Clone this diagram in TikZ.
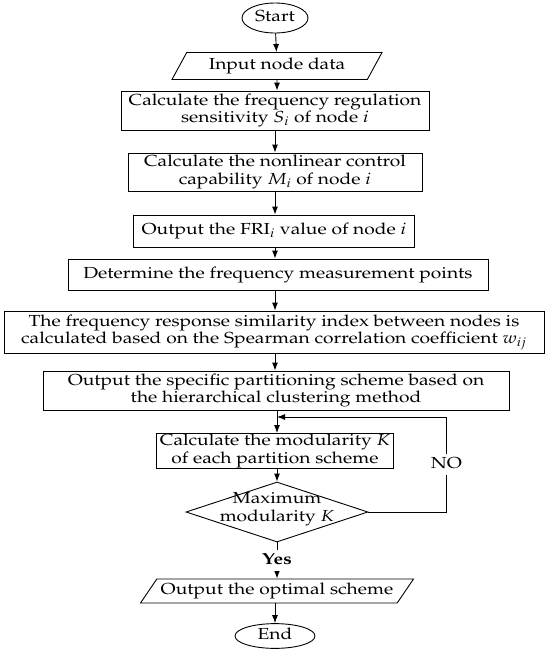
\documentclass[tikz,border=0pt]{standalone}
\usepackage[T1]{fontenc}
\usepackage{mathpazo}
\usepackage{graphicx}
\usetikzlibrary{shapes,arrows.meta,positioning}
\tikzstyle{l1}=[line width=0.9]
\tikzstyle{arr}=[l1, -{Latex[length=8pt,width=6pt]}]
\tikzstyle{txt}=[font=\fontsize{16}{17.5}\selectfont, inner sep=0pt]
\tikzstyle{box}=[rectangle, draw=black, l1, txt]
\tikzstyle{term}=[ellipse, draw=black, l1, txt]
\tikzstyle{io}=[trapezium, trapezium left angle=50, trapezium right angle=130, trapezium stretches body, draw=black, l1, txt]
\tikzstyle{dec}=[diamond, draw=black, l1, inner sep=0pt]
% wide letters, as in the figure
\newcommand{\sx}[1]{\scalebox{1.2}[1]{\begin{tabular}{@{}c@{}}#1\end{tabular}}}

\begin{document}
\begin{tikzpicture}[x=1pt, y=-1pt]
    \useasboundingbox (0,0) rectangle (550,651);
    \node[term, minimum width=66, minimum height=30] at (275,18) (1) {\sx{Start}};
    \node[io, minimum width=210, minimum height=27] at (277,66) (2) {\sx{Input node data}};
    \node[box, minimum width=308, minimum height=39] at (275,110.5) (3) {\sx{Calculate the frequency regulation\\sensitivity $S_i$ of node $i$}};
    \node[box, minimum width=294, minimum height=38] at (275,172) (4) {\sx{Calculate the nonlinear control\\capability $M_i$ of node $i$}};
    \node[box, minimum width=281, minimum height=32] at (274,231) (5) {\sx{Output the FRI$_i$ value of node $i$}};
    \node[box, minimum width=420, minimum height=31] at (278,274.5) (6) {\sx{Determine the frequency measurement points}};
    \node[box, minimum width=540, minimum height=42] at (274,332) (7) {\sx{The frequency response similarity index between nodes is\\calculated based on the Spearman correlation coefficient $w_{ij}$}};
    \node[box, minimum width=466, minimum height=39] at (276,390.5) (8) {\sx{Output the specific partitioning scheme based on\\the hierarchical clustering method}};
    \node[box, minimum width=237, minimum height=34] at (275,451) (9) {\sx{Calculate the modularity $K$\\of each partition scheme}};
    \node[dec, minimum width=182, minimum height=60] at (277,512) (10) {};
    \node[txt] at (277,509) (10t) {\sx{Maximum\\modularity $K$}};
    \node[io, trapezium left angle=47, trapezium right angle=133, minimum width=273, minimum height=24] at (277,591) (11) {\sx{Output the optimal scheme}};
    \node[term, minimum width=80, minimum height=22] at (275,636) (12) {\sx{End}};
    \coordinate (j) at (277,417);

    \draw[arr] (1) -- (2);
    \draw[arr] (2) -- (2 |- 3.north);
    \draw[arr] (3.south -| 4) -- (4);
    \draw[arr] (4) -- (4 |- 5.north);
    \draw[arr] (5.south -| 4) -- (4 |- 6.north);
    \draw[arr] (6.south -| 4) -- (4 |- 7.north);
    \draw[arr] (7.south -| 4) -- (4 |- 8.north);
    \draw[arr] (8.south -| 10) -- (10 |- 9.north);
    \draw[arr] (9.south -| 10) -- (10);
    \draw[arr] (10.east) -- ++(78,0) |- node[pos=0.25, txt, fill=white, inner sep=2pt] {\sx{NO}} (j);
    \draw[arr] (10) -- node[txt, fill=white, inner sep=2pt] {\sx{\bfseries Yes}} (11);
    \draw[arr] (11.south -| 12) -- (12);
\end{tikzpicture}
\end{document}
